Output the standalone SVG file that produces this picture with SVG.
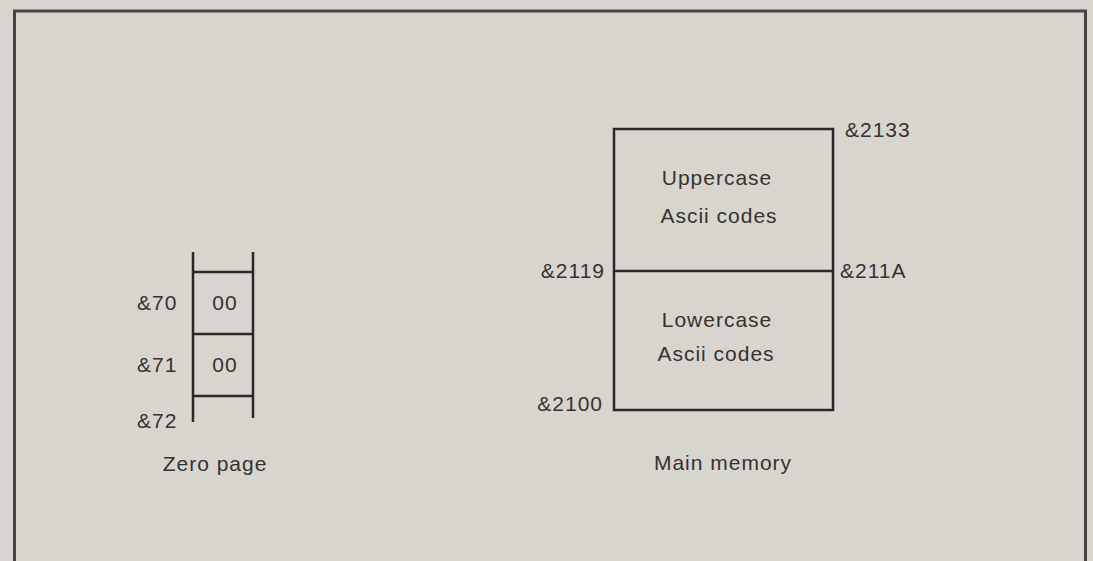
<svg xmlns="http://www.w3.org/2000/svg" width="1093" height="561" viewBox="0 0 1093 561">
<style>
.t{font-family:"Liberation Sans",Arial,sans-serif;font-size:21px;letter-spacing:1px;fill:#353331}
.c{text-anchor:middle}
.e{text-anchor:end}
.ln{stroke:#2b2928;stroke-width:2.5;fill:none}
</style>
<rect x="0" y="0" width="1093" height="561" fill="#d8d4ce"/>
<path d="M14.5,561 V11 H1085.5 V561" fill="none" stroke="#4a4444" stroke-width="3"/>
<g id="zero-page">
<path class="ln" d="M193,252 V422 M253,252 V418 M193,272 H253 M193,334 H253 M193,396 H253"/>
<text class="t" x="137" y="310">&amp;70</text>
<text class="t c" x="225" y="310">00</text>
<text class="t" x="137" y="372">&amp;71</text>
<text class="t c" x="225" y="372">00</text>
<text class="t" x="137" y="428">&amp;72</text>
<text class="t c" x="215" y="471">Zero page</text>
</g>
<g id="main-memory">
<rect class="ln" x="614" y="129" width="219" height="281"/>
<path class="ln" d="M614,271 H833"/>
<text class="t" x="845" y="137">&amp;2133</text>
<text class="t c" x="717" y="185">Uppercase</text>
<text class="t c" x="719" y="223">Ascii codes</text>
<text class="t e" x="605" y="278">&amp;2119</text>
<text class="t" x="840" y="278">&amp;211A</text>
<text class="t c" x="717" y="327">Lowercase</text>
<text class="t c" x="716" y="361">Ascii codes</text>
<text class="t e" x="603" y="411">&amp;2100</text>
<text class="t c" x="723" y="470">Main memory</text>
</g>
<g id="connectors"></g>
</svg>
